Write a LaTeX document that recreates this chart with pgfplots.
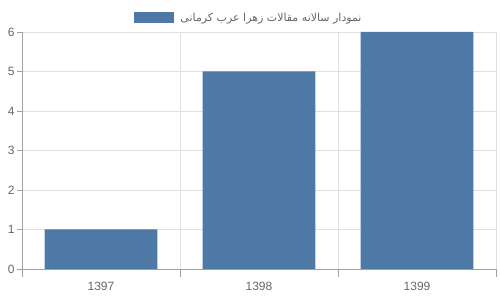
\documentclass[border=0pt]{standalone}
\usepackage{fontspec}
\setmainfont{Liberation Sans}
\newfontfamily\arabicfont[Script=Arabic]{DejaVu Sans}
\TeXXeTstate=1
\usepackage{pgfplots}
\pgfplotsset{compat=1.18}
\definecolor{barblue}{HTML}{4E78A6}
\definecolor{gridgray}{HTML}{E0E0E0}
\definecolor{axisgray}{HTML}{A0A0A0}
\definecolor{textgray}{HTML}{666666}
\begin{document}
\begin{tikzpicture}
\begin{axis}[
  scale only axis,
  width=474bp, height=237bp,
  xmin=-0.5, xmax=2.5, ymin=0, ymax=6,
  xtick={0,1,2}, xticklabels={1397,1398,1399},
  major x tick style={draw=none},
  minor xtick={-0.5,0.5,1.5,2.5},
  minor x tick style={draw=axisgray},
  minor tick length=8bp,
  ytick={0,1,2,3,4,5,6},
  major tick length=5bp,
  y tick style={draw=axisgray},
  tick align=outside,
  xmajorgrids=false, xminorgrids=true, ymajorgrids=true,
  grid style={draw=gridgray, line width=0.6bp},
  minor grid style={draw=gridgray, line width=0.6bp},
  axis x line*=bottom, axis y line*=left,
  axis line style={draw=axisgray, line width=0.8bp, -},
  tick label style={font=\fontsize{12bp}{14bp}\selectfont, text=textgray},
  /pgf/number format/assume math mode=true,
  xticklabel style={yshift=-5bp},
  yticklabel style={xshift=1bp},
  legend style={at={(0.5,1)}, anchor=south, xshift=-8bp, yshift=5bp, draw=none, fill=none,
    font=\fontsize{11bp}{13bp}\selectfont, text=textgray, legend columns=1,
    /tikz/every even column/.append style={column sep=0pt},
    nodes={inner xsep=6bp}},
  legend image code/.code={\fill[barblue] (0bp,-5.5bp) rectangle (40bp,5.5bp);},
]
\addplot[ybar, bar width=0.715, fill=barblue, draw=none] coordinates {(0,1) (1,5) (2,6)};
\addlegendentry{\arabicfont\beginR نمودار سالانه مقالات زهرا عرب کرمانی\endR}
\end{axis}
\useasboundingbox ([xshift=-22bp,yshift=-31bp]current axis.south west) rectangle ([xshift=4bp,yshift=32bp]current axis.north east);
\end{tikzpicture}
\end{document}
